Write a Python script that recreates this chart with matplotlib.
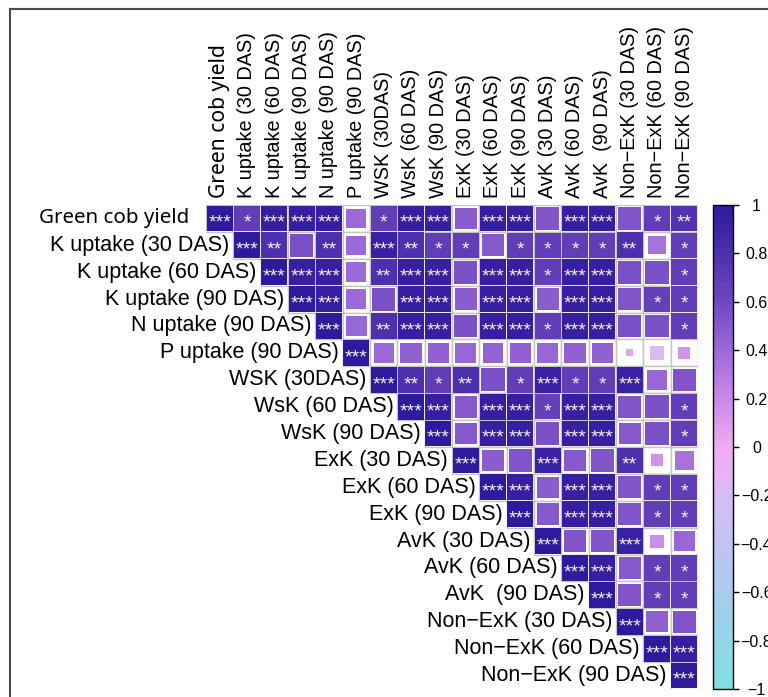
import numpy as np
import matplotlib
matplotlib.use("Agg")
import matplotlib.pyplot as plt
from matplotlib.patches import Rectangle
from matplotlib.lines import Line2D
from matplotlib.colors import LinearSegmentedColormap
from matplotlib.cm import ScalarMappable
from matplotlib.colors import Normalize

labels = ["Green cob yield", "K uptake (30 DAS)", "K uptake (60 DAS)", "K uptake (90 DAS)",
          "N uptake (90 DAS)", "P uptake (90 DAS)", "WSK (30DAS)", "WsK (60 DAS)", "WsK (90 DAS)",
          "ExK (30 DAS)", "ExK (60 DAS)", "ExK (90 DAS)", "AvK (30 DAS)", "AvK (60 DAS)",
          "AvK  (90 DAS)", "Non\u2212ExK (30 DAS)", "Non\u2212ExK (60 DAS)", "Non\u2212ExK (90 DAS)"]

# upper triangle, row i holds columns i..17
r_upper = [
    [1.00, 0.68, 0.95, 0.95, 0.95, 0.40, 0.68, 0.95, 0.95, 0.48, 0.95, 0.95, 0.52, 0.95, 0.95, 0.52, 0.68, 0.78],
    [1.00, 0.80, 0.55, 0.80, 0.40, 0.93, 0.80, 0.68, 0.68, 0.50, 0.68, 0.68, 0.68, 0.68, 0.80, 0.35, 0.68],
    [1.00, 0.95, 0.95, 0.40, 0.80, 0.95, 0.95, 0.55, 0.95, 0.95, 0.68, 0.95, 0.95, 0.55, 0.55, 0.68],
    [1.00, 0.95, 0.40, 0.55, 0.95, 0.95, 0.48, 0.95, 0.95, 0.48, 0.95, 0.95, 0.52, 0.66, 0.68],
    [1.00, 0.42, 0.80, 0.95, 0.95, 0.55, 0.95, 0.95, 0.68, 0.95, 0.95, 0.55, 0.55, 0.68],
    [1.00, 0.40, 0.45, 0.45, 0.42, 0.44, 0.45, 0.42, 0.45, 0.45, 0.05, -0.19, 0.15],
    [1.00, 0.80, 0.68, 0.80, 0.55, 0.68, 0.93, 0.68, 0.68, 0.93, 0.42, 0.52],
    [1.00, 0.95, 0.50, 0.95, 0.95, 0.66, 0.95, 0.95, 0.52, 0.55, 0.68],
    [1.00, 0.50, 0.95, 0.95, 0.55, 0.95, 0.95, 0.50, 0.55, 0.68],
    [1.00, 0.48, 0.52, 0.93, 0.50, 0.52, 0.80, 0.15, 0.35],
    [1.00, 0.95, 0.48, 0.95, 0.95, 0.52, 0.68, 0.68],
    [1.00, 0.50, 0.95, 0.95, 0.52, 0.68, 0.68],
    [1.00, 0.52, 0.52, 0.93, 0.18, 0.42],
    [1.00, 0.95, 0.50, 0.68, 0.68],
    [1.00, 0.52, 0.68, 0.68],
    [1.00, 0.45, 0.52],
    [1.00, 0.95],
    [1.00],
]

stars_upper = [
    ["***", "*", "***", "***", "***", "", "*", "***", "***", "", "***", "***", "", "***", "***", "", "*", "**"],
    ["***", "**", "", "**", "", "***", "**", "*", "*", "", "*", "*", "*", "*", "**", "", "*"],
    ["***", "***", "***", "", "**", "***", "***", "", "***", "***", "*", "***", "***", "", "", "*"],
    ["***", "***", "", "", "***", "***", "", "***", "***", "", "***", "***", "", "*", "*"],
    ["***", "", "**", "***", "***", "", "***", "***", "*", "***", "***", "", "", "*"],
    ["***", "", "", "", "", "", "", "", "", "", "", "", ""],
    ["***", "**", "*", "**", "", "*", "***", "*", "*", "***", "", ""],
    ["***", "***", "", "***", "***", "*", "***", "***", "", "", "*"],
    ["***", "", "***", "***", "", "***", "***", "", "", "*"],
    ["***", "", "", "***", "", "", "**", "", ""],
    ["***", "***", "", "***", "***", "", "*", "*"],
    ["***", "", "***", "***", "", "*", "*"],
    ["***", "", "", "***", "", ""],
    ["***", "***", "", "*", "*"],
    ["***", "", "*", "*"],
    ["***", "", ""],
    ["***", "***"],
    ["***"],
]

cbar_ticks = [1, 0.8, 0.6, 0.4, 0.2, 0, -0.2, -0.4, -0.6, -0.8, -1]
cbar_labels = ["1", "0.8", "0.6", "0.4", "0.2", "0", "\u22120.2", "\u22120.4", "\u22120.6", "\u22120.8", "\u22121"]

cmap = LinearSegmentedColormap.from_list("corr", [
    (0.0, "#7FDFE0"), (0.2, "#A8CCEC"), (0.3, "#C0C4F0"), (0.4, "#D8BCF4"),
    (0.5, "#F2AAF2"), (0.6, "#C88AE8"), (0.7, "#9C6AD8"), (0.8, "#7048C0"),
    (0.9, "#4E30AE"), (1.0, "#2E1A9C")])
norm = Normalize(-1, 1)

n = len(labels)
fig = plt.figure(figsize=(7.68, 6.97), dpi=100)
ax = fig.add_axes([206 / 768, 1 - 689 / 697, 492 / 768, 484 / 697])
ax.set_xlim(-0.5, n - 0.5)
ax.set_ylim(n - 0.5, -0.5)
ax.axis("off")

for i in range(n):
    for k, r in enumerate(r_upper[i]):
        j = i + k
        ax.add_patch(Rectangle((j - 0.5, i - 0.5), 1, 1, facecolor="white",
                               edgecolor="#C4C4C4", lw=1.0, zorder=1))
        s = min(0.96, 1.15 * np.sqrt(abs(r)))
        ax.add_patch(Rectangle((j - s / 2, i - s / 2), s, s, facecolor=cmap(norm(r)),
                               edgecolor="none", zorder=2))
        st = stars_upper[i][k]
        if st:
            ax.text(j, i + 0.18, st, color="#F4F0FF", fontsize=14, ha="center", va="center",
                    family="Liberation Sans", zorder=3)

for i, lab in enumerate(labels):
    if i == 0:
        ax.text(i - 0.5 - 0.62, i, lab, ha="right", va="center", fontsize=14.8, family="Noto Sans")
        ax.text(i, -0.5 - 0.26, lab, ha="center", va="bottom", rotation=90, fontsize=15.2,
                family="Noto Sans")
    else:
        ax.text(i - 0.5 - 0.14, i, lab, ha="right", va="center", fontsize=15.5,
                family="Liberation Sans")
        ax.text(i, -0.5 - 0.26, lab, ha="center", va="bottom", rotation=90, fontsize=14.3,
                family="Liberation Sans")

cax = fig.add_axes([713 / 768, 1 - 689 / 697, 20 / 768, 484 / 697])
cb = fig.colorbar(ScalarMappable(norm=norm, cmap=cmap), cax=cax)
cb.outline.set_linewidth(1.0)
cb.set_ticks(cbar_ticks)
cb.set_ticklabels(cbar_labels)
cax.tick_params(axis="y", length=4, width=1, pad=13, labelsize=11.5)
for t in cax.get_yticklabels():
    t.set_ha("center")
    t.set_family("Liberation Sans")

fig.add_artist(Line2D([10 / 768, 1], [1 - 9 / 697, 1 - 9 / 697], transform=fig.transFigure,
                      color="#4A4A4A", lw=1.5))
fig.add_artist(Line2D([10 / 768, 10 / 768], [0, 1 - 9 / 697], transform=fig.transFigure,
                      color="#4A4A4A", lw=1.5))

fig.savefig("out.png", dpi=100)
